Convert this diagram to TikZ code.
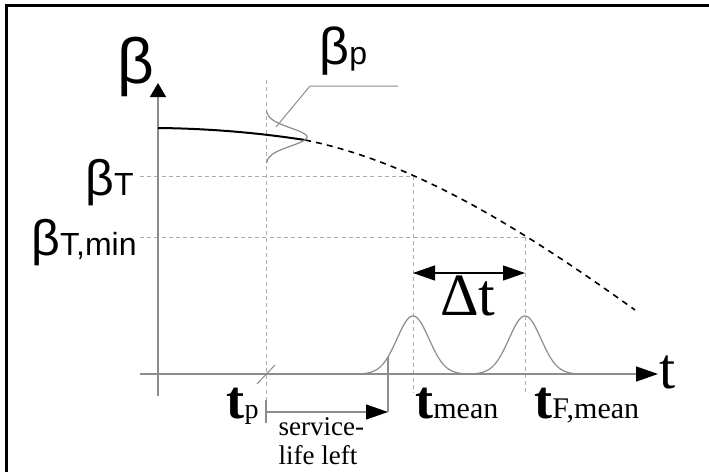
\documentclass[tikz,border=0pt]{standalone}
\usepackage{fontspec}
\setmainfont{Liberation Serif}
\newfontfamily\arialfont{Liberation Sans}
\newfontfamily\timesfont{Liberation Serif}
\usetikzlibrary{arrows.meta}

\tikzset{
    axisline/.style={draw=gray!90, line width=0.75pt},
    guide/.style={draw=gray!65, line width=0.5pt, dash pattern=on 2pt off 1.6pt},
    bellcurve/.style={draw=gray!90, line width=0.6pt},
    bigtip/.style={-{Triangle[length=11pt, width=7.5pt, color=black]}},
    dimtip/.style={{Triangle[length=11pt, width=7.5pt, color=black]}-{Triangle[length=11pt, width=7.5pt, color=black]}},
    greeklbl/.style={inner sep=0pt, font=\arialfont},
    timelbl/.style={inner sep=0pt, font=\timesfont}
}

\begin{document}
\begin{tikzpicture}[x=0.5pt, y=-0.5pt]
    \useasboundingbox (0,0) rectangle (709,472);
    % frame (cropped: only top and left edges)
    \draw[line width=1.6pt] (709,5.5) -- (6.5,5.5) -- (6.5,472);

    % key points
    \coordinate (ybot) at (158,396);
    \coordinate (ytip) at (158,83);
    \coordinate (xleft) at (140,374);
    \coordinate (xtip) at (658,374);
    \coordinate (c0) at (158,128);
    \coordinate (cp) at (305,140);
    \coordinate (cT) at (413,176);
    \coordinate (cmin) at (525,237);
    \coordinate (cend) at (635,310);
    \coordinate (tptop) at (266,80);
    \coordinate (tpbot) at (266,423);
    \coordinate (tplow) at (266,400);

    % guide lines
    \draw[guide] (tptop) -- (tplow);
    \draw[guide] (cT -| xleft) -- (cT);
    \draw[guide] (cmin -| xleft) -- (cmin);
    \draw[guide] (cT) -- (413,393);
    \draw[guide] (cmin) -- (525,393);

    % axes
    \draw[axisline, -{Triangle[length=7pt, width=8pt, color=black]}] (ybot) -- (ytip);
    \draw[axisline, -{Triangle[length=11pt, width=7.5pt, color=black]}] (xleft) -- (xtip);
    \draw[axisline, line width=0.5pt] (257,384) -- (275,365);

    % reliability curve
    \draw[line width=1pt] (c0) .. controls (210,128.5) and (260,133) .. (cp);
    \draw[line width=0.8pt, dash pattern=on 3pt off 2.6pt] (cp) .. controls (415,162) and (525,231) .. (cend);

    % distributions
    \draw[bellcurve] plot[domain=-26:26, samples=60] ({266+41*exp(-(\x/9)^2/2)}, {137+\x});
    \draw[bellcurve] plot[domain=-50:50, samples=80] ({413+\x}, {374-58*exp(-(\x/16)^2/2)});
    \draw[bellcurve] plot[domain=-50:50, samples=80] ({525+\x}, {374-58*exp(-(\x/16)^2/2)});

    % leader for beta_p
    \draw[draw=gray!90, line width=0.5pt] (398,86) -- (310,86) -- (276,127);

    % time difference
    \coordinate (dtl) at (413,273);
    \coordinate (dtr) at (525,273);
    \draw[dimtip, line width=0.6pt] (dtl) -- (dtr);

    % service life left
    \coordinate (slend) at (388,412);
    \draw[axisline, line width=0.6pt] (tplow) -- (tpbot);
    \draw[axisline, line width=0.6pt, bigtip] (266,412) -- (slend);
    \draw[axisline, line width=0.6pt] (slend) -- (388,357);

    % labels
    \node[greeklbl, anchor=base west] (beta) at (117,83) {\fontsize{32}{32}\selectfont β};
    \node[greeklbl, anchor=base west] (betap) at (319,64) {\fontsize{26}{26}\selectfont β\fontsize{16}{16}\selectfont p};
    \node[greeklbl, anchor=base east] (betaT) at (134,195) {\fontsize{25}{25}\selectfont β\fontsize{16}{16}\selectfont T};
    \node[greeklbl, anchor=base west] (betaTmin) at (31,255) {\fontsize{25}{25}\selectfont β\fontsize{16}{16}\selectfont T,min};
    \node[timelbl, anchor=base west] (taxis) at (659,388) {\fontsize{29}{29}\selectfont t};
    \node[timelbl, anchor=base] (dt) at (468,315) {\fontsize{30}{30}\selectfont Δt};
    \node[timelbl, anchor=base east] (tp) at (259,418) {\fontsize{27}{27}\selectfont\bfseries t\mdseries\fontsize{14}{14}\selectfont p};
    \node[timelbl, anchor=base west] (tmean) at (415,418) {\fontsize{27}{27}\selectfont\bfseries t\mdseries\fontsize{15}{15}\selectfont mean};
    \node[timelbl, anchor=base west] (tFmean) at (534,418) {\fontsize{27}{27}\selectfont\bfseries t\mdseries\fontsize{15}{15}\selectfont F,mean};
    \node[timelbl, anchor=base west, scale=1.35] (lifeleft) at (278,435) {\renewcommand{\arraystretch}{0.925}%
        \begin{tabular}[t]{@{}l@{}}service-\\life left\end{tabular}};
\end{tikzpicture}
\end{document}
